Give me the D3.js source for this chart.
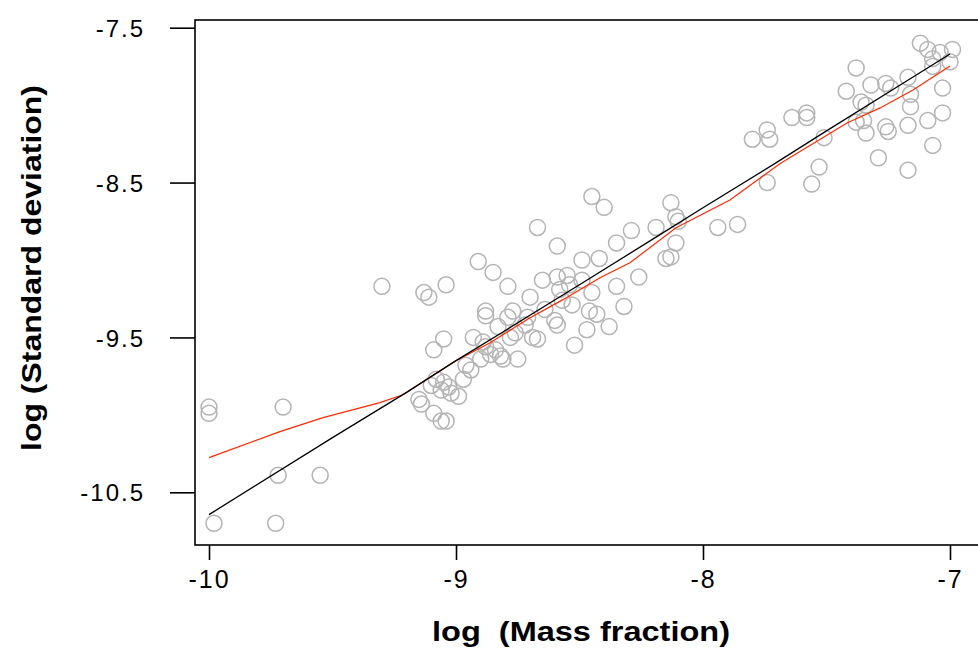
<!DOCTYPE html>
<html>
<head>
<meta charset="utf-8">
<script src="https://cdn.jsdelivr.net/npm/d3@7"></script>
<style>
  html, body { margin: 0; padding: 0; background: #fff; }
  svg { display: block; }
  .tick text { font-family: "Liberation Sans", Arial, sans-serif; }
</style>
</head>
<body>
<div id="container"></div>
<script>
// observed points: log(mass fraction) vs log(standard deviation)
const logMass = [
  -10.00, -10.00, -9.70, -9.72, -9.55, -9.98, -9.73, -9.30,
  -9.13, -9.11, -9.04, -9.15, -9.14, -9.10, -9.08, -9.05, -9.03, -9.06, -9.09, -9.06, -9.04,
  -9.09, -9.05, -8.99, -8.97, -8.96, -8.93, -9.02,
  -8.91, -8.85, -8.79, -8.88, -8.88, -8.89, -8.84, -8.81, -8.86, -8.88, -8.83, -8.82,
  -8.75, -8.77, -8.79, -8.78, -8.76, -8.90, -8.94,
  -8.67, -8.70, -8.65, -8.59, -8.55, -8.59, -8.69, -8.67, -8.60, -8.59, -8.52, -8.49,
  -8.45, -8.40, -8.49, -8.45, -8.46, -8.43, -8.47, -8.53, -8.58, -8.72, -8.64, -8.71,
  -8.42, -8.35, -8.29, -8.35, -8.32, -8.38, -8.57, -8.54,
  -8.13, -8.11, -8.10, -8.19, -8.11, -8.15, -8.13, -7.94, -7.86, -8.26,
  -7.80, -7.74, -7.73, -7.74,
  -7.38, -7.42, -7.12, -7.09, -7.04, -6.99, -7.07, -7.00, -7.07,
  -7.32, -7.26, -7.24, -7.17, -7.36, -7.34, -7.16, -7.16, -7.03,
  -7.64, -7.58, -7.58, -7.35, -7.34, -7.26, -7.25, -7.17, -7.09, -7.03, -7.07,
  -7.51, -7.29, -7.17, -7.53, -7.56, -7.38
];
const logSd = [
  -9.95, -9.99, -9.95, -10.39, -10.39, -10.70, -10.70, -9.17,
  -9.21, -9.24, -9.16, -9.90, -9.93, -9.81, -9.77, -9.79, -9.82, -9.84, -9.99, -10.04, -10.04,
  -9.58, -9.51, -9.88, -9.77, -9.68, -9.50, -9.86,
  -9.01, -9.08, -9.17, -9.33, -9.36, -9.53, -9.58, -9.64, -9.61, -9.56, -9.43, -9.62,
  -9.64, -9.33, -9.37, -9.50, -9.47, -9.64, -9.71,
  -8.79, -9.24, -9.13, -9.11, -9.10, -8.91, -9.50, -9.51, -9.39, -9.42, -9.55, -9.00,
  -8.59, -8.66, -9.13, -9.21, -9.33, -9.35, -9.45, -9.29, -9.19, -9.42, -9.32, -9.37,
  -8.99, -8.89, -8.81, -9.17, -9.30, -9.43, -9.26, -9.16,
  -8.63, -8.72, -8.75, -8.79, -8.89, -8.99, -8.98, -8.79, -8.77, -9.11,
  -8.22, -8.16, -8.22, -8.50,
  -7.76, -7.91, -7.60, -7.64, -7.66, -7.64, -7.70, -7.72, -7.75,
  -7.87, -7.86, -7.89, -7.82, -7.98, -8.00, -7.93, -8.01, -7.89,
  -8.08, -8.05, -8.08, -8.10, -8.18, -8.14, -8.17, -8.13, -8.10, -8.05, -8.26,
  -8.21, -8.34, -8.42, -8.40, -8.51, -8.11
];

// fitted line (black)
const fitX = [-10.0, -9.5, -9.2, -9.0, -8.8, -8.5, -8.2, -8.0, -7.7, -7.5, -7.2, -7.0];
const fitY = [-10.644, -10.147, -9.855, -9.650, -9.455, -9.160, -8.862, -8.663, -8.368, -8.166, -7.868, -7.670];

// smoothed curve (red)
const smoothX = [-10.0, -9.713, -9.538, -9.308, -9.215, -9.077, -9.0, -8.862, -8.700, -8.567,
  -8.417, -8.296, -8.109, -7.891, -7.689, -7.417, -7.283, -7.150, -7.0];
const smoothY = [-10.276, -10.108, -10.018, -9.921, -9.870, -9.728, -9.650, -9.534, -9.373, -9.256,
  -9.114, -9.018, -8.792, -8.612, -8.379, -8.115, -8.018, -7.902, -7.747];

const xTicks = [-10, -9, -8, -7];
const yTicks = [-7.5, -8.5, -9.5, -10.5];

const W = 978, H = 651;
const box = { left: 195, top: 20, right: 995, bottom: 545 };

const x = d3.scaleLinear().domain([-10, -7]).range([209, 950]);
const y = d3.scaleLinear().domain([-7.5, -10.5]).range([27.7, 492.3]);

const svg = d3.select("#container").append("svg")
  .attr("width", W).attr("height", H);

// points
svg.append("g")
  .selectAll("circle")
  .data(logMass.map((m, i) => [m, logSd[i]]))
  .join("circle")
  .attr("cx", d => x(d[0]))
  .attr("cy", d => y(d[1]))
  .attr("r", 8)
  .attr("fill", "none")
  .attr("stroke", "#b4b4b4")
  .attr("stroke-width", 1.5);

const line = d3.line().x(d => x(d[0])).y(d => y(d[1]));

svg.append("path")
  .datum(smoothX.map((v, i) => [v, smoothY[i]]))
  .attr("d", line)
  .attr("fill", "none")
  .attr("stroke", "#ff2a00")
  .attr("stroke-width", 1.2);

svg.append("path")
  .datum(fitX.map((v, i) => [v, fitY[i]]))
  .attr("d", line)
  .attr("fill", "none")
  .attr("stroke", "#000")
  .attr("stroke-width", 1.3);

// frame
svg.append("rect")
  .attr("x", box.left).attr("y", box.top)
  .attr("width", box.right - box.left).attr("height", box.bottom - box.top)
  .attr("fill", "none").attr("stroke", "#000").attr("stroke-width", 1.6);

const fmt = d => String(d);

const yAxis = svg.append("g")
  .attr("transform", `translate(${box.left},0)`)
  .call(d3.axisLeft(y).tickValues(yTicks).tickFormat(fmt).tickSize(25).tickPadding(25));
yAxis.select(".domain").remove();
yAxis.selectAll(".tick line").attr("stroke-width", 1.6);
yAxis.selectAll(".tick text").attr("font-size", 24).attr("letter-spacing", 2)
  .attr("fill", "#000").attr("dy", "0.36em");

const xAxis = svg.append("g")
  .attr("transform", `translate(0,${box.bottom})`)
  .call(d3.axisBottom(x).tickValues(xTicks).tickFormat(fmt).tickSize(15).tickPadding(10));
xAxis.select(".domain").remove();
xAxis.selectAll(".tick line").attr("stroke-width", 1.6);
xAxis.selectAll(".tick text").attr("font-size", 25).attr("letter-spacing", 2).attr("fill", "#000");

// axis titles
svg.append("text")
  .attr("x", 581).attr("y", 641)
  .attr("text-anchor", "middle")
  .attr("font-family", "Liberation Sans, Arial, sans-serif")
  .attr("font-weight", "bold").attr("font-size", 28)
  .attr("textLength", 298).attr("lengthAdjust", "spacingAndGlyphs")
  .attr("xml:space", "preserve")
  .text("log  (Mass fraction)");

svg.append("text")
  .attr("transform", "translate(41,268) rotate(-90)")
  .attr("text-anchor", "middle")
  .attr("font-family", "Liberation Sans, Arial, sans-serif")
  .attr("font-weight", "bold").attr("font-size", 28)
  .attr("textLength", 366).attr("lengthAdjust", "spacingAndGlyphs")
  .text("log (Standard deviation)");
</script>
</body>
</html>
